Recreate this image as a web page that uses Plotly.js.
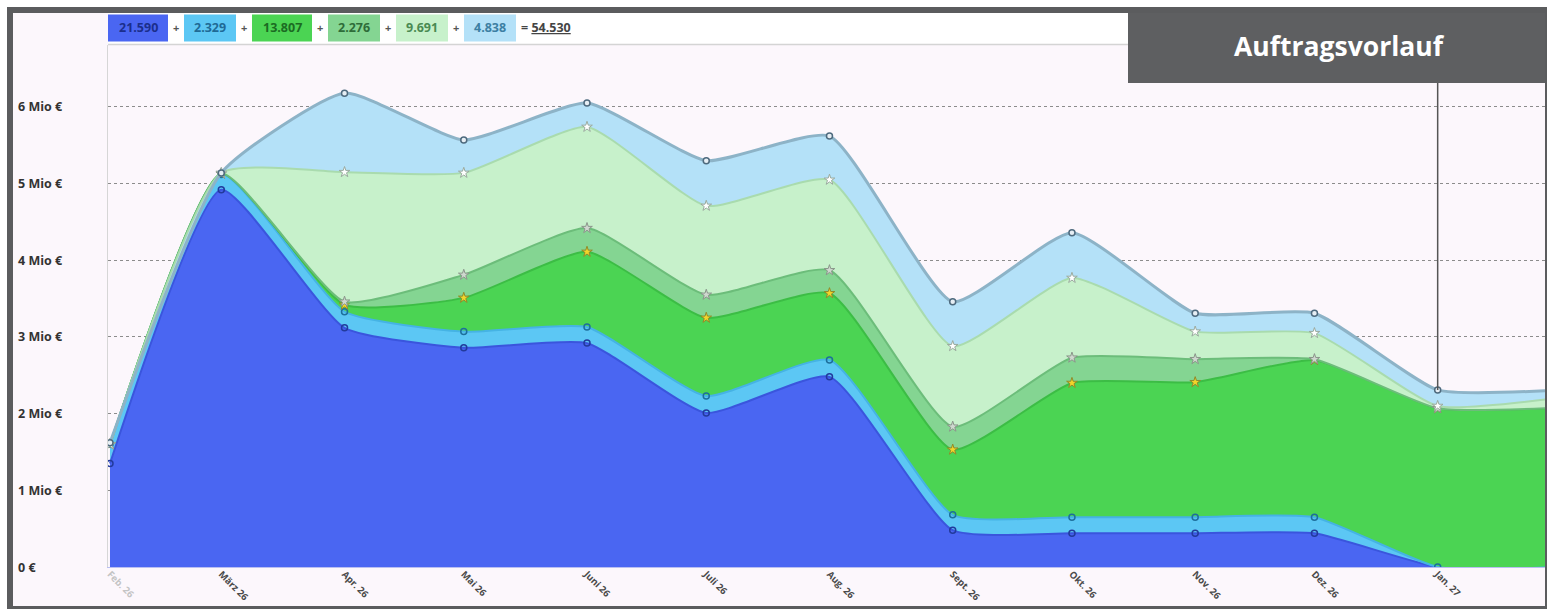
<!DOCTYPE html>
<html>
<head>
<meta charset="utf-8">
<script src="https://cdn.plot.ly/plotly-3.0.1.min.js"></script>
<style>
  html, body { margin:0; padding:0; background:#ffffff; width:1547px; height:609px; overflow:hidden; }
  #frame { position:absolute; left:7px; top:7px; width:1532px; height:593px;
           border-left:6px solid #5b5c5e; border-top:6px solid #5b5c5e;
           border-right:2px solid #5b5c5e; border-bottom:3px solid #5b5c5e; }
  #chart { width:1532px; height:593px; }
</style>
</head>
<body>
<div id="frame"><div id="chart"></div></div>
<script>
// ---------- data ----------
const months = ['2026-02-01','2026-03-01','2026-04-01','2026-05-01','2026-06-01','2026-07-01',
                '2026-08-01','2026-09-01','2026-10-01','2026-11-01','2026-12-01','2027-01-01','2027-02-01'];
const monthLabels = ['Feb. 26','März 26','Apr. 26','Mai 26','Juni 26','Juli 26',
                     'Aug. 26','Sept. 26','Okt. 26','Nov. 26','Dez. 26','Jan. 27'];
// values in Mio €
const s1 = [1.35,4.92,3.12,2.86,2.92,2.01,2.48,0.48,0.44,0.44,0.44,0.00,0.00];
const s2 = [0.25,0.20,0.21,0.21,0.21,0.22,0.22,0.20,0.21,0.21,0.21,0.00,0.00];
const s3 = [0.00,0.01,0.09,0.44,0.98,1.02,0.87,0.85,1.75,1.76,2.05,2.07,2.08];
const s4 = [0.00,0.00,0.04,0.30,0.31,0.30,0.30,0.30,0.33,0.30,0.01,0.00,0.00];
const s5 = [0.00,0.01,1.69,1.33,1.32,1.16,1.18,1.05,1.04,0.36,0.34,0.03,0.13];
const s6 = [0.02,0.00,1.03,0.43,0.31,0.59,0.57,0.58,0.59,0.24,0.26,0.21,0.10];
const legendValues = [21590, 2329, 13807, 2276, 9691, 4838];
const legendTotal = 54530;
const yTickVals = [0,1,2,3,4,5,6];
const yTickText = ['0 €','1 Mio €','2 Mio €','3 Mio €','4 Mio €','5 Mio €','6 Mio €'];
const titleText = 'Auftragsvorlauf';
const markerMonth = '2027-01-01';

// ---------- styles ----------
const fills  = ['#4a66f2','#5cc7f4','#4bd453','#84d592','#c7f1cb','#b4e1f8'];
const lines  = ['#3a55dd','#45b3e4','#3cbd45','#6cbd7a','#a9dbae','#8db3c7'];
const lwid   = [2,2,2,2,2,3];
const mk = [
  {symbol:'circle-open', size:6, color:'#223a9c', line:{width:1.5,color:'#223a9c'}},
  {symbol:'circle-open', size:6, color:'#1d6f9c', line:{width:1.5,color:'#1d6f9c'}},
  {symbol:'star', size:8, color:'#f2d52a', line:{width:1,color:'#8f8a2a'}},
  {symbol:'star', size:8, color:'#cfd8cf', line:{width:1,color:'#8a968a'}},
  {symbol:'star', size:8, color:'#ffffff', line:{width:1,color:'#9aaa9e'}},
  {symbol:'circle', size:6, color:'#e6eef4', line:{width:1.5,color:'#4e6a7e'}}
];
const legendText = ['#1b2e8c','#1f6a96','#1b6b22','#2e6c39','#4a8a52','#3c7fa3'];

const series = [s1,s2,s3,s4,s5,s6];
const traces = series.map((s,i) => ({
  type:'scatter', mode:'lines+markers', x:months, y:s, stackgroup:'one',
  fillcolor:fills[i], line:{color:lines[i], width:lwid[i], shape:'spline', smoothing:0.5},
  marker:mk[i], hoverinfo:'skip', showlegend:false
}));

// ---------- geometry helpers (page pixels -> paper) ----------
const OX = 13, OY = 13, ML = 95, MT = 32, MR = 0, MB = 39, W = 1532, H = 593;
const PW = W - ML - MR, PH = H - MT - MB;
const px = p => (p - OX - ML) / PW;
const py = p => (OY + MT + PH - p) / PH;
const yMax = 6.808;

const fmt = v => v.toString().replace(/\B(?=(\d{3})+(?!\d))/g, '.');

const shapes = [];
const annotations = [];

// legend strip
shapes.push({type:'rect', xref:'paper', yref:'paper', x0:px(108), x1:px(1128), y0:py(44.5), y1:py(12),
  fillcolor:'#ffffff', line:{width:0}, layer:'above'});
shapes.push({type:'line', xref:'paper', yref:'paper', x0:px(108), x1:px(1128), y0:py(44.5), y1:py(44.5),
  line:{color:'#d4d4d4', width:1.5}, layer:'above'});
let cx = 108;
legendValues.forEach((v,i) => {
  const t = fmt(v);
  const w = 8*t.length + 12;
  shapes.push({type:'rect', xref:'paper', yref:'paper', x0:px(cx), x1:px(cx+w), y0:py(41.5), y1:py(14.5),
    fillcolor:fills[i], line:{width:0}, layer:'above'});
  annotations.push({xref:'paper', yref:'paper', x:px(cx+w/2), y:py(28), text:t, showarrow:false,
    xanchor:'center', yanchor:'middle', font:{family:'Open Sans', size:12.5, color:legendText[i], weight:'bold'}});
  cx += w;
  if (i < legendValues.length - 1) {
    annotations.push({xref:'paper', yref:'paper', x:px(cx+8), y:py(28), text:'+', showarrow:false,
      xanchor:'center', yanchor:'middle', font:{family:'Open Sans', size:11, color:'#555', weight:'bold'}});
    cx += 16;
  }
});
annotations.push({xref:'paper', yref:'paper', x:px(cx+3), y:py(28), text:'= <u>' + fmt(legendTotal) + '</u>',
  showarrow:false, xanchor:'left', yanchor:'middle', font:{family:'Open Sans', size:12.5, color:'#444', weight:'bold'}});

// vertical marker line at Jan 27
const idx = months.indexOf(markerMonth);
const topAt = series.reduce((a,s) => a + s[idx], 0);
shapes.push({type:'line', xref:'x', yref:'y', x0:markerMonth, x1:markerMonth, y0:topAt, y1:yMax,
  line:{color:'#555555', width:1.5}, layer:'above'});

// title box
shapes.push({type:'rect', xref:'paper', yref:'paper', x0:px(1128), x1:px(1550), y0:py(83), y1:py(5),
  fillcolor:'#5e5f61', line:{width:0}, layer:'above'});
annotations.push({xref:'paper', yref:'paper', x:px(1339), y:py(46), text:titleText, showarrow:false,
  xanchor:'center', yanchor:'middle', font:{family:'Open Sans', size:26.5, color:'#ffffff', weight:'bold'}});

// y tick labels, left aligned
yTickVals.forEach((v,i) => {
  annotations.push({xref:'paper', yref:'y', x:px(16), y:v, text:yTickText[i], showarrow:false,
    xanchor:'left', yanchor:'middle', font:{family:'Open Sans', size:12.5, color:'#333', weight:'bold'}});
});

const tickText = monthLabels.map((t,i) => i === 0 ? '<span style="color:#c4c4c4">' + t + '</span>' : t);

const layout = {
  width:W, height:H,
  margin:{l:ML, r:MR, t:MT, b:MB, pad:0},
  paper_bgcolor:'#fcf7fc', plot_bgcolor:'#fcf7fc',
  showlegend:false, hovermode:false,
  xaxis:{type:'date', range:['2026-01-31 12:00','2027-01-28'], tickvals:months.slice(0,12), ticktext:tickText,
    tickangle:45, ticks:'', ticklabelstandoff:-3, showgrid:false, zeroline:false, showline:true,
    linecolor:'#b9bff2', linewidth:1,
    tickfont:{family:'Open Sans', size:9.5, color:'#4a4a4a', weight:'bold'}},
  yaxis:{range:[0,yMax], tickvals:yTickVals, showticklabels:false, ticks:'', zeroline:false,
    showgrid:true, gridcolor:'#8c8c8c', gridwidth:1, griddash:'3px,3px',
    showline:true, linecolor:'#d6d6d6', linewidth:1.5},
  shapes:shapes, annotations:annotations
};

Plotly.newPlot('chart', traces, layout, {displayModeBar:false, staticPlot:true});
</script>
</body>
</html>
